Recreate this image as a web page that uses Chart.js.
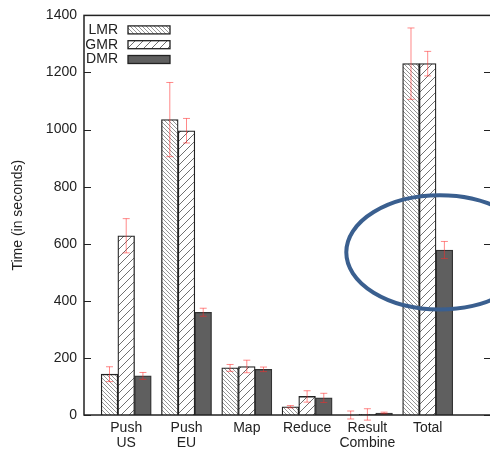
<!DOCTYPE html>
<html>
<head>
<meta charset="utf-8">
<script src="https://cdn.jsdelivr.net/npm/chart.js@4"></script>
<style>
  html, body { margin: 0; padding: 0; background: #fff; overflow: hidden; }
</style>
</head>
<body>
<canvas id="myChart" width="500" height="450"></canvas>
<script>
const categories = [['Push', 'US'], ['Push', 'EU'], 'Map', 'Reduce', ['Result', 'Combine'], 'Total'];
const yTicks = [0, 200, 400, 600, 800, 1000, 1200, 1400];

const lmr = [143, 1035, 165, 29, 0, 1231];
const gmr = [628, 996, 170, 65, 2, 1231];
const dmr = [137, 360, 160, 60, 7, 578];

const lmrErr = [26, 130, 12, 4, 14, 125];
const gmrErr = [60, 43, 22, 20, 20, 43];
const dmrErr = [12, 14, 8, 16, 3, 30];

// hatch fills
function hatch(period, dir, color, width) {
  const c = document.createElement('canvas');
  c.width = period; c.height = period;
  const g = c.getContext('2d');
  g.fillStyle = '#fff';
  g.fillRect(0, 0, period, period);
  g.strokeStyle = color;
  g.lineWidth = width;
  g.beginPath();
  if (dir === '\\') {
    g.moveTo(-1, -1); g.lineTo(period + 1, period + 1);
    g.moveTo(-1, period - 1); g.lineTo(1, period + 1);
    g.moveTo(period - 1, -1); g.lineTo(period + 1, 1);
  } else {
    g.moveTo(-1, period + 1); g.lineTo(period + 1, -1);
    g.moveTo(-1, 1); g.lineTo(1, -1);
    g.moveTo(period - 1, period + 1); g.lineTo(period + 1, period - 1);
  }
  g.stroke();
  return g.createPattern(c, 'repeat');
}

const lmrFill = hatch(4, '\\', '#959595', 1);
const gmrFill = hatch(8, '/', '#707070', 1);
const dmrFill = '#5f5f5f';

const errors = [lmrErr, gmrErr, dmrErr];

const toPoints = arr => arr.map((v, i) => ({ x: i, y: v }));

const frameAndTicks = {
  id: 'frameAndTicks',
  afterDatasetsDraw(chart) {
    const { ctx, chartArea: a, scales: { x, y } } = chart;
    ctx.save();
    // error bars
    ctx.strokeStyle = 'rgba(255, 40, 40, 0.55)';
    ctx.lineWidth = 1;
    chart.data.datasets.forEach((ds, di) => {
      const meta = chart.getDatasetMeta(di);
      meta.data.forEach((bar, i) => {
        const v = ds.data[i].y, e = errors[di][i];
        const top = y.getPixelForValue(v + e);
        const bot = y.getPixelForValue(v - e);
        ctx.beginPath();
        ctx.moveTo(bar.x, top); ctx.lineTo(bar.x, bot);
        ctx.moveTo(bar.x - 3.5, top); ctx.lineTo(bar.x + 3.5, top);
        ctx.moveTo(bar.x - 3.5, bot); ctx.lineTo(bar.x + 3.5, bot);
        ctx.stroke();
      });
    });
    // inward ticks, both sides
    ctx.strokeStyle = '#222';
    ctx.lineWidth = 1.2;
    yTicks.forEach(t => {
      const py = Math.round(y.getPixelForValue(t)) + 0.5;
      ctx.beginPath();
      ctx.moveTo(a.left, py); ctx.lineTo(a.left + 7, py);
      ctx.moveTo(a.right, py); ctx.lineTo(a.right - 7, py);
      ctx.stroke();
    });
    // frame
    ctx.lineWidth = 1.5;
    ctx.strokeRect(a.left, a.top, a.right - a.left, a.bottom - a.top);

    // legend, gnuplot style: text then sample
    ctx.font = '14px "Liberation Sans", Arial, sans-serif';
    ctx.textAlign = 'right';
    ctx.textBaseline = 'middle';
    chart.data.datasets.forEach((ds, di) => {
      const cy = a.top + 14.5 + di * 14.8;
      ctx.fillStyle = '#222';
      ctx.fillText(ds.label, a.left + 34, cy);
      ctx.fillStyle = ds.backgroundColor;
      ctx.fillRect(a.left + 44, cy - 4, 42, 8);
      ctx.lineWidth = 1.3;
      ctx.strokeStyle = '#222';
      ctx.strokeRect(a.left + 44, cy - 4, 42, 8);
    });

    // highlight ellipse around Total / DMR
    const cx = x.getPixelForValue(5.2), cyE = y.getPixelForValue(570);
    const rx = x.getPixelForValue(5.2 + 1.55) - cx;
    const ry = y.getPixelForValue(370) - cyE;
    ctx.beginPath();
    ctx.ellipse(cx, cyE, rx, ry, 0, 0, Math.PI * 2);
    ctx.lineWidth = 4;
    ctx.strokeStyle = '#3a5f8f';
    ctx.stroke();
    ctx.restore();
  }
};

const ctx = document.getElementById('myChart');

const myChart = new Chart(ctx, {
  type: 'bar',
  data: {
    datasets: [
      { label: 'LMR', data: toPoints(lmr), backgroundColor: lmrFill, borderColor: '#222', borderWidth: 1.3 },
      { label: 'GMR', data: toPoints(gmr), backgroundColor: gmrFill, borderColor: '#222', borderWidth: 1.3 },
      { label: 'DMR', data: toPoints(dmr), backgroundColor: dmrFill, borderColor: '#333', borderWidth: 1.3 }
    ]
  },
  options: {
    responsive: false,
    animation: false,
    barThickness: 16.7,
    layout: { padding: { top: 13, right: 9, left: 0, bottom: 0 } },
    plugins: {
      legend: { display: false },
      tooltip: { enabled: false }
    },
    scales: {
      x: {
        type: 'linear',
        offset: false,
        min: -0.7,
        max: 6.05,
        grid: { display: false, offset: false, drawTicks: false },
        border: { display: false },
        afterBuildTicks: scale => { scale.ticks = categories.map((_, i) => ({ value: i })); },
        afterFit: scale => { scale.height = 35; },
        ticks: {
          padding: 6,
          maxRotation: 0,
          autoSkip: false,
          color: '#222',
          font: { family: '"Liberation Sans", Arial, sans-serif', size: 14, lineHeight: 1.07 },
          callback: v => categories[v]
        }
      },
      y: {
        min: 0,
        max: 1400,
        grid: { display: false, drawTicks: false },
        border: { display: false },
        afterBuildTicks: scale => { scale.ticks = yTicks.map(v => ({ value: v })); },
        afterFit: scale => { scale.width = 84; },
        ticks: {
          padding: 7,
          color: '#222',
          font: { family: '"Liberation Sans", Arial, sans-serif', size: 14 },
          callback: v => String(v)
        },
        title: {
          display: true,
          text: 'Time (in seconds)',
          color: '#222',
          padding: { top: 10, bottom: 0 },
          font: { family: '"Liberation Sans", Arial, sans-serif', size: 14 }
        }
      }
    }
  },
  plugins: [frameAndTicks]
});
</script>
</body>
</html>
